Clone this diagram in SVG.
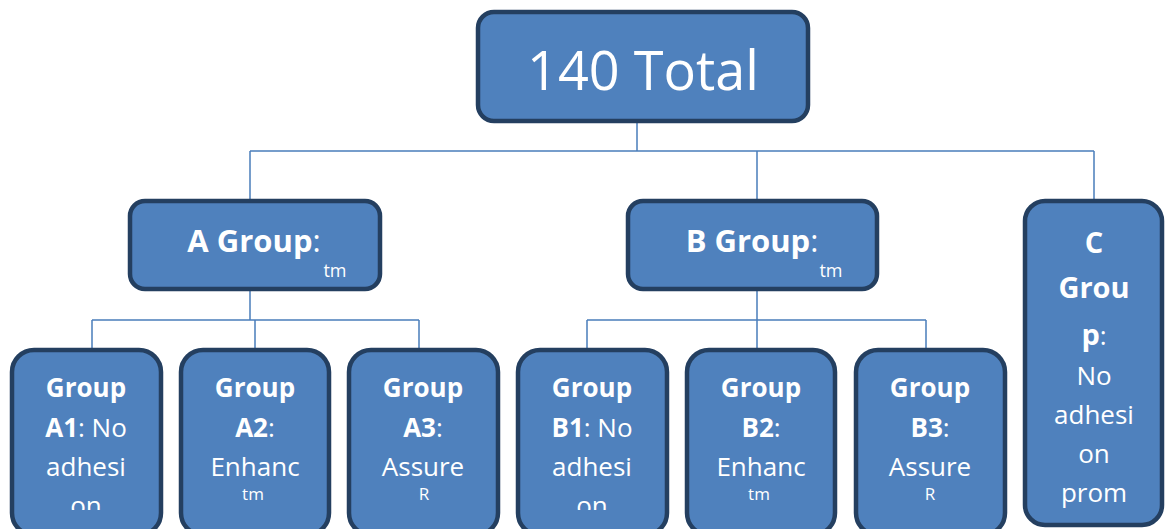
<svg xmlns="http://www.w3.org/2000/svg" width="1165" height="529" viewBox="0 0 1165 529">
<style>
.box{fill:#4F81BD;stroke:#243F60;stroke-width:4.5}
.conn{fill:none;stroke:#4A7EBB;stroke-width:1.5}
text{font-family:"Open Sans","Liberation Sans",sans-serif;fill:#fff;text-anchor:middle}
.b{font-weight:bold}
.t{font-size:26px}
.tc{font-size:29px}
.sm{font-size:17px}
.smg{font-size:18px}
</style>
<defs>
<clipPath id="clipA1"><rect x="0" y="340" width="1165" height="170"/></clipPath>
</defs>
<rect width="1165" height="529" fill="#fff"/>
<g id="connectors">
<path class="conn" d="M637 122V151M250 151H1094M250 151V200M757 151V200M1094 151V201"/>
<path class="conn" d="M250 290V320M92 320H419M92 320V349M255 320V349M419 320V349"/>
<path class="conn" d="M757 290V320M587 320H926M587 320V349M757 320V349M926 320V349"/>
</g>
<g id="total">
<rect class="box" x="478" y="12" width="330" height="109" rx="16"/>
<text x="643" y="90" font-size="54">140 Total</text>
</g>
<g id="groupA">
<rect class="box" x="130" y="201" width="250" height="88" rx="15"/>
<text x="254" y="252" font-size="31"><tspan class="b">A Group</tspan>:</text>
<text class="smg" x="335" y="277">tm</text>
</g>
<g id="groupB">
<rect class="box" x="628" y="201" width="249" height="88" rx="15"/>
<text x="752" y="252" font-size="31"><tspan class="b">B Group</tspan>:</text>
<text class="smg" x="831" y="277">tm</text>
</g>
<g id="groupC">
<rect class="box" x="1025" y="201" width="137" height="324" rx="20"/>
<text class="tc b" x="1094" y="253">C</text>
<text class="tc b" x="1094" y="298">Grou</text>
<text class="t" x="1094" y="345"><tspan class="b tc">p</tspan>:</text>
<text class="t" x="1094" y="385">No</text>
<text class="t" x="1094" y="424">adhesi</text>
<text class="t" x="1094" y="463">on</text>
<text class="t" x="1094" y="502">prom</text>
</g>
<g id="groupA1">
<rect class="box" x="12" y="350" width="149" height="185" rx="22"/>
<g clip-path="url(#clipA1)">
<text class="t b" x="86" y="397">Group</text>
<text class="t" x="86" y="437"><tspan class="b">A1</tspan>: No</text>
<text class="t" x="86" y="476">adhesi</text>
<text class="t" x="86" y="515">on</text>
</g>
</g>
<g id="groupA2">
<rect class="box" x="181" y="350" width="148" height="185" rx="22"/>
<text class="t b" x="255" y="397">Group</text>
<text class="t" x="255" y="437"><tspan class="b">A2</tspan>:</text>
<text class="t" x="255" y="476">Enhanc</text>
<text class="sm" x="253" y="500">tm</text>
</g>
<g id="groupA3">
<rect class="box" x="349" y="350" width="149" height="185" rx="22"/>
<text class="t b" x="423" y="397">Group</text>
<text class="t" x="423" y="437"><tspan class="b">A3</tspan>:</text>
<text class="t" x="423" y="476">Assure</text>
<text class="sm" x="424" y="500">R</text>
</g>
<g id="groupB1">
<rect class="box" x="518" y="350" width="149" height="185" rx="22"/>
<g clip-path="url(#clipA1)">
<text class="t b" x="592" y="397">Group</text>
<text class="t" x="592" y="437"><tspan class="b">B1</tspan>: No</text>
<text class="t" x="592" y="476">adhesi</text>
<text class="t" x="592" y="515">on</text>
</g>
</g>
<g id="groupB2">
<rect class="box" x="687" y="350" width="148" height="185" rx="22"/>
<text class="t b" x="761" y="397">Group</text>
<text class="t" x="761" y="437"><tspan class="b">B2</tspan>:</text>
<text class="t" x="761" y="476">Enhanc</text>
<text class="sm" x="759" y="500">tm</text>
</g>
<g id="groupB3">
<rect class="box" x="856" y="350" width="149" height="185" rx="22"/>
<text class="t b" x="930" y="397">Group</text>
<text class="t" x="930" y="437"><tspan class="b">B3</tspan>:</text>
<text class="t" x="930" y="476">Assure</text>
<text class="sm" x="930" y="500">R</text>
</g>
</svg>
